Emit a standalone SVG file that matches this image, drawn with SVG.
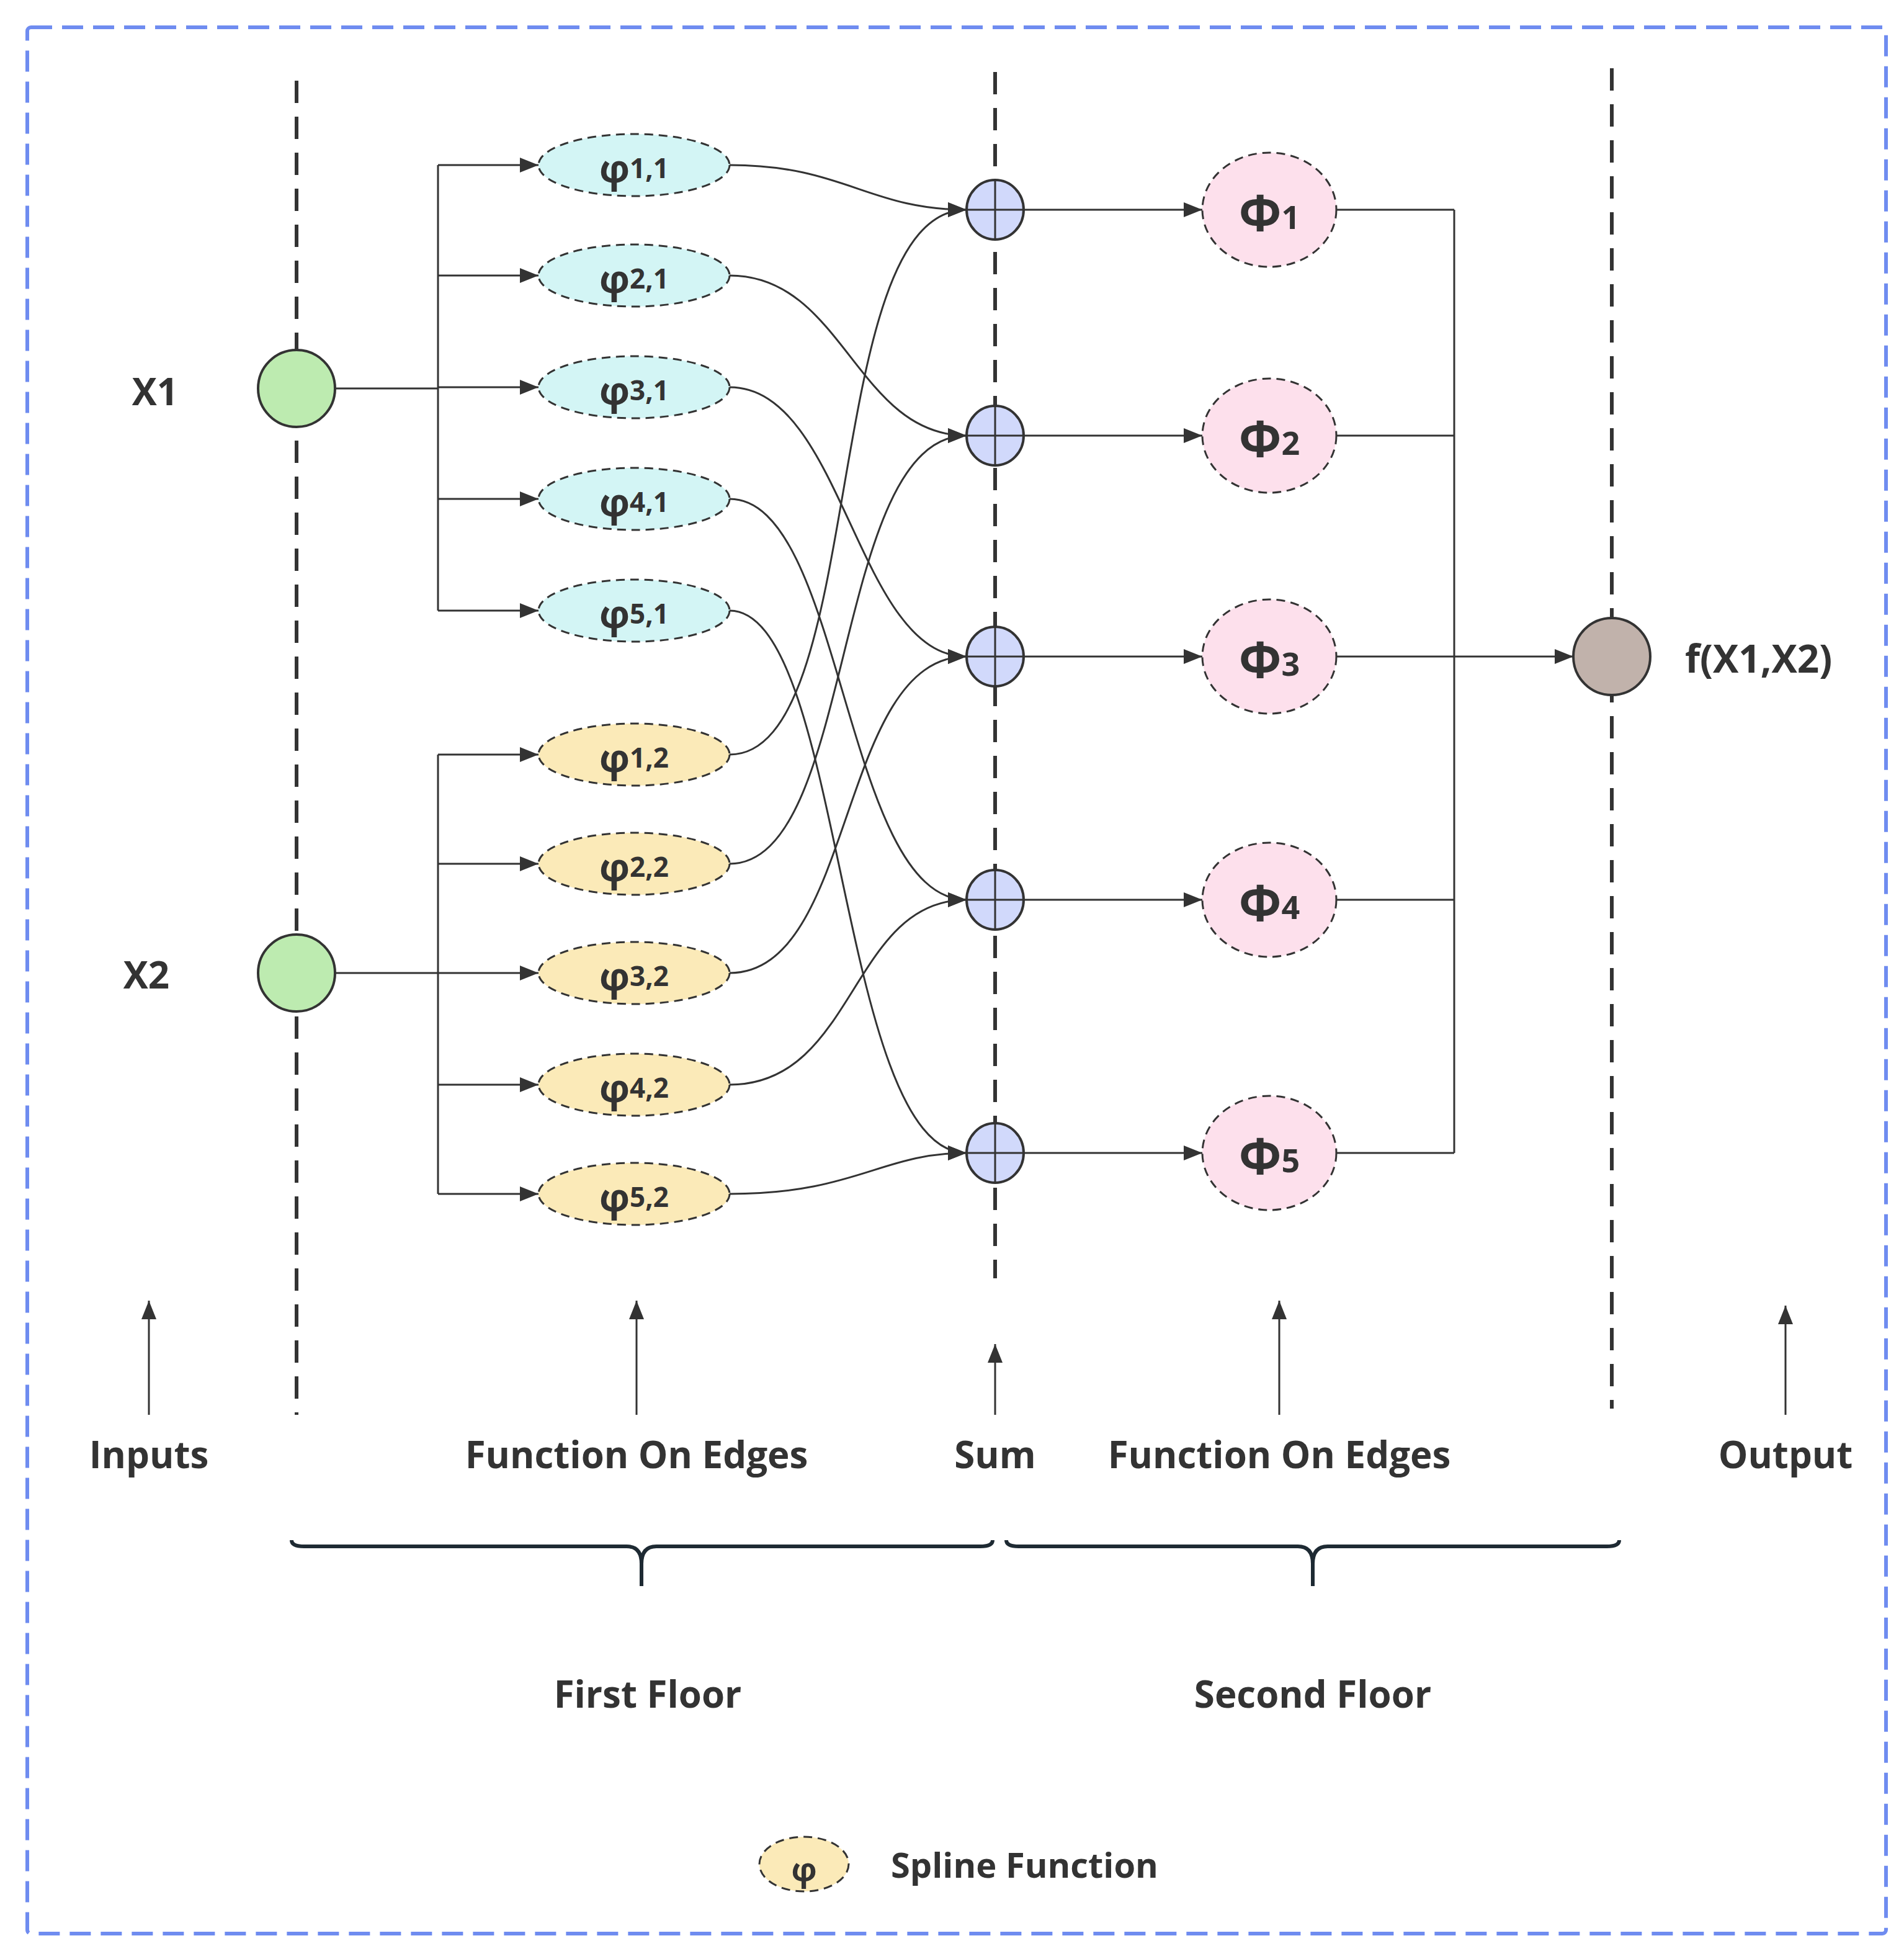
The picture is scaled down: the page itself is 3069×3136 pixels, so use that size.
<svg xmlns="http://www.w3.org/2000/svg" width="3069" height="3136" viewBox="0 0 3069 3136">
<style>
.t{font-family:"Open Sans","Liberation Sans",sans-serif;font-weight:bold;fill:#333}
.c{stroke:#333;stroke-width:3;fill:none}
.vd{stroke:#333;stroke-width:6;stroke-dasharray:36 22;fill:none}
.e1{fill:#d3f5f5;stroke:#333;stroke-width:3;stroke-dasharray:14 9}
.e2{fill:#fbeab8;stroke:#333;stroke-width:3;stroke-dasharray:14 9}
.ph{fill:#fde0ec;stroke:#333;stroke-width:3;stroke-dasharray:14 9}
.sm{fill:#d1d9fb;stroke:#333;stroke-width:4}
.lab{font-size:62px;text-anchor:middle;dominant-baseline:central}
.sub{font-size:44px}
.pl{font-size:80px;text-anchor:middle;dominant-baseline:central}
.psub{font-size:52px}
.big{font-size:60px}
</style>
<defs>
<marker id="b" viewBox="0 0 10 10" refX="10" refY="5" markerWidth="36" markerHeight="30" markerUnits="userSpaceOnUse" orient="auto"><path d="M0,1L10,5L0,9z" fill="#333"/></marker>
</defs>
<rect width="3069" height="3136" fill="#fff"/>
<rect x="44" y="44" width="2996" height="3072" fill="none" stroke="#6f8cf0" stroke-width="6" stroke-dasharray="34 16" rx="6"/>
<g id="axes">
<line class="vd" x1="478" y1="130" x2="478" y2="2280"/>
<line class="vd" x1="1604" y1="116" x2="1604" y2="2060"/>
<line class="vd" x1="2598" y1="110" x2="2598" y2="2270"/>
</g>
<g id="connectors">
<path class="c" d="M540,626H706M540,1568H706"/>
<path class="c" d="M706,266V984M706,1216V1924"/>
<g marker-end="url(#b)">
<path class="c" d="M706,266H868"/><path class="c" d="M706,444H868"/><path class="c" d="M706,624H868"/><path class="c" d="M706,804H868"/><path class="c" d="M706,984H868"/>
<path class="c" d="M706,1216H868"/><path class="c" d="M706,1392H868"/><path class="c" d="M706,1568H868"/><path class="c" d="M706,1748H868"/><path class="c" d="M706,1924H868"/>
<path class="c" d="M1176,266C1360,266 1400,338 1558,338"/>
<path class="c" d="M1176,444C1360,444 1380,702 1558,702"/>
<path class="c" d="M1176,624C1360,624 1380,1058 1558,1058"/>
<path class="c" d="M1176,804C1360,804 1360,1450 1558,1450"/>
<path class="c" d="M1176,984C1360,984 1350,1858 1558,1858"/>
<path class="c" d="M1176,1216C1400,1216 1320,338 1558,338"/>
<path class="c" d="M1176,1392C1380,1392 1340,702 1558,702"/>
<path class="c" d="M1176,1568C1380,1568 1350,1058 1558,1058"/>
<path class="c" d="M1176,1748C1380,1748 1370,1450 1558,1450"/>
<path class="c" d="M1176,1924C1380,1924 1420,1858 1558,1858"/>
<path class="c" d="M1650,338H1938"/><path class="c" d="M1650,702H1938"/><path class="c" d="M1650,1058H1938"/><path class="c" d="M1650,1450H1938"/><path class="c" d="M1650,1858H1938"/>
<path class="c" d="M2154,1058H2536"/>
<path class="c" d="M240,2280V2096"/><path class="c" d="M1026,2280V2096"/><path class="c" d="M1604,2280V2166"/><path class="c" d="M2062,2280V2096"/><path class="c" d="M2878,2280V2104"/>
</g>
<path class="c" d="M2154,338H2344M2154,702H2344M2154,1450H2344M2154,1858H2344M2344,338V1858"/>
<path d="M470,2482Q470,2492 490,2492H1010Q1034,2492 1034,2520V2556V2520Q1034,2492 1058,2492H1580Q1600,2492 1600,2482" stroke="#1e2a33" stroke-width="6" fill="none"/>
<path d="M1622,2482Q1622,2492 1642,2492H2092Q2116,2492 2116,2520V2556V2520Q2116,2492 2140,2492H2590Q2610,2492 2610,2482" stroke="#1e2a33" stroke-width="6" fill="none"/>
</g>
<g id="x1"><circle cx="478" cy="626" r="62" fill="#bdebb0" stroke="#333" stroke-width="4"/><text class="t big" x="250" y="630" text-anchor="middle" dominant-baseline="central">X1</text></g>
<g id="x2"><circle cx="478" cy="1568" r="62" fill="#bdebb0" stroke="#333" stroke-width="4"/><text class="t big" x="236" y="1570" text-anchor="middle" dominant-baseline="central">X2</text></g>
<g id="phi11"><ellipse class="e1" cx="1022" cy="266" rx="154" ry="50"/><text class="t lab" x="1022" y="270">φ<tspan class="sub">1,1</tspan></text></g>
<g id="phi21"><ellipse class="e1" cx="1022" cy="444" rx="154" ry="50"/><text class="t lab" x="1022" y="448">φ<tspan class="sub">2,1</tspan></text></g>
<g id="phi31"><ellipse class="e1" cx="1022" cy="624" rx="154" ry="50"/><text class="t lab" x="1022" y="628">φ<tspan class="sub">3,1</tspan></text></g>
<g id="phi41"><ellipse class="e1" cx="1022" cy="804" rx="154" ry="50"/><text class="t lab" x="1022" y="808">φ<tspan class="sub">4,1</tspan></text></g>
<g id="phi51"><ellipse class="e1" cx="1022" cy="984" rx="154" ry="50"/><text class="t lab" x="1022" y="988">φ<tspan class="sub">5,1</tspan></text></g>
<g id="phi12"><ellipse class="e2" cx="1022" cy="1216" rx="154" ry="50"/><text class="t lab" x="1022" y="1220">φ<tspan class="sub">1,2</tspan></text></g>
<g id="phi22"><ellipse class="e2" cx="1022" cy="1392" rx="154" ry="50"/><text class="t lab" x="1022" y="1396">φ<tspan class="sub">2,2</tspan></text></g>
<g id="phi32"><ellipse class="e2" cx="1022" cy="1568" rx="154" ry="50"/><text class="t lab" x="1022" y="1572">φ<tspan class="sub">3,2</tspan></text></g>
<g id="phi42"><ellipse class="e2" cx="1022" cy="1748" rx="154" ry="50"/><text class="t lab" x="1022" y="1752">φ<tspan class="sub">4,2</tspan></text></g>
<g id="phi52"><ellipse class="e2" cx="1022" cy="1924" rx="154" ry="50"/><text class="t lab" x="1022" y="1928">φ<tspan class="sub">5,2</tspan></text></g>
<g id="sums">
<g id="s1"><ellipse class="sm" cx="1604" cy="338" rx="46" ry="48"/><path class="c" d="M1558,338H1650M1604,290V386"/></g>
<g id="s2"><ellipse class="sm" cx="1604" cy="702" rx="46" ry="48"/><path class="c" d="M1558,702H1650M1604,654V750"/></g>
<g id="s3"><ellipse class="sm" cx="1604" cy="1058" rx="46" ry="48"/><path class="c" d="M1558,1058H1650M1604,1010V1106"/></g>
<g id="s4"><ellipse class="sm" cx="1604" cy="1450" rx="46" ry="48"/><path class="c" d="M1558,1450H1650M1604,1402V1498"/></g>
<g id="s5"><ellipse class="sm" cx="1604" cy="1858" rx="46" ry="48"/><path class="c" d="M1558,1858H1650M1604,1810V1906"/></g>
</g>
<g id="Phi1"><ellipse class="ph" cx="2046" cy="338" rx="108" ry="92"/><text class="t pl" x="2046" y="340">Φ<tspan class="psub" dy="8">1</tspan></text></g>
<g id="Phi2"><ellipse class="ph" cx="2046" cy="702" rx="108" ry="92"/><text class="t pl" x="2046" y="704">Φ<tspan class="psub" dy="8">2</tspan></text></g>
<g id="Phi3"><ellipse class="ph" cx="2046" cy="1058" rx="108" ry="92"/><text class="t pl" x="2046" y="1060">Φ<tspan class="psub" dy="8">3</tspan></text></g>
<g id="Phi4"><ellipse class="ph" cx="2046" cy="1450" rx="108" ry="92"/><text class="t pl" x="2046" y="1452">Φ<tspan class="psub" dy="8">4</tspan></text></g>
<g id="Phi5"><ellipse class="ph" cx="2046" cy="1858" rx="108" ry="92"/><text class="t pl" x="2046" y="1860">Φ<tspan class="psub" dy="8">5</tspan></text></g>
<g id="out"><ellipse cx="2598" cy="1058" rx="62" ry="62" fill="#c1b2ab" stroke="#333" stroke-width="4"/><text class="t" font-size="62" x="2716" y="1060" dominant-baseline="central">f(X1,X2)</text></g>
<g id="labels" class="t big" text-anchor="middle">
<text x="240" y="2366">Inputs</text>
<text x="1026" y="2366">Function On Edges</text>
<text x="1604" y="2366">Sum</text>
<text x="2062" y="2366">Function On Edges</text>
<text x="2878" y="2366">Output</text>
<text x="1044" y="2752">First Floor</text>
<text x="2116" y="2752">Second Floor</text>
</g>
<g id="legend"><ellipse class="e2" cx="1296" cy="3004" rx="72" ry="44"/><text class="t" x="1296" y="3010" font-size="52" text-anchor="middle" dominant-baseline="central">φ</text><text class="t" x="1436" y="3026" font-size="56">Spline Function</text></g>
</svg>
